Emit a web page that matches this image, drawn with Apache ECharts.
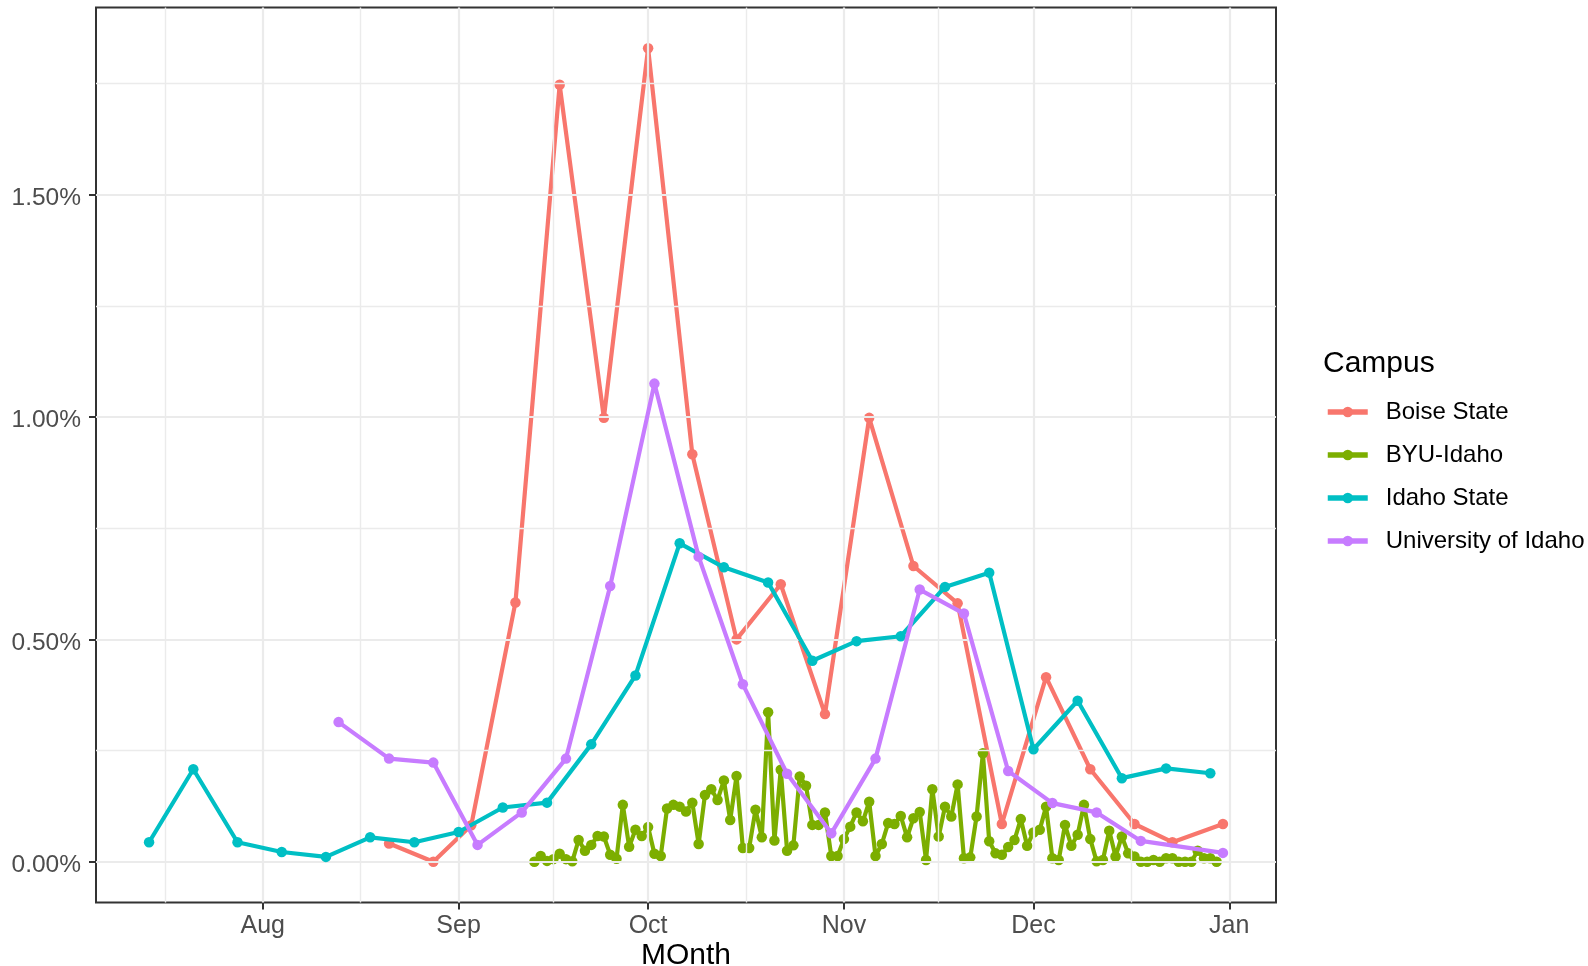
<!DOCTYPE html>
<html><head><meta charset="utf-8">
<script src="https://cdn.jsdelivr.net/npm/echarts@6/dist/echarts.min.js"></script>
<style>html,body{margin:0;padding:0;background:#fff}#c{width:1588px;height:966px}</style>
</head><body><div id="c"></div>
<script>
// ---------- data (values in percent) ----------
const campuses = ['Boise State', 'BYU-Idaho', 'Idaho State', 'University of Idaho'];
const campusColors = ['#F8766D', '#7CAE00', '#00BFC4', '#C77CFF'];

const boiseDates = ['2021-08-21','2021-08-28','2021-09-03','2021-09-10','2021-09-17','2021-09-24','2021-10-01','2021-10-08','2021-10-15','2021-10-22','2021-10-29','2021-11-05','2021-11-12','2021-11-19','2021-11-26','2021-12-03','2021-12-10','2021-12-17','2021-12-23','2021-12-31'];
const boiseValues = [0.041,0.000,0.082,0.583,1.747,0.998,1.829,0.916,0.500,0.624,0.332,0.998,0.665,0.581,0.085,0.415,0.208,0.085,0.044,0.085];

const byuStartDate = '2021-09-13'; // daily values from this date
const byuValues = [
 0.000,0.013,0.002,0.006,0.018,0.006,0.001,0.049,0.025,0.038,
 0.058,0.057,0.016,0.007,0.128,0.034,0.072,0.058,0.078,0.018,
 0.013,0.120,0.128,0.124,0.113,0.133,0.040,0.150,0.163,0.139,
 0.183,0.094,0.193,0.031,0.031,0.117,0.055,0.336,0.048,0.207,
 0.025,0.037,0.192,0.171,0.083,0.083,0.111,0.013,0.013,0.051,
 0.079,0.111,0.091,0.135,0.013,0.040,0.087,0.085,0.103,0.055,
 0.098,0.112,0.004,0.163,0.057,0.124,0.102,0.174,0.008,0.010,
 0.102,0.244,0.046,0.019,0.016,0.033,0.049,0.096,0.036,0.066,
 0.072,0.124,0.008,0.004,0.083,0.036,0.061,0.128,0.051,0.001,
 0.004,0.070,0.012,0.057,0.019,0.012,0.000,0.000,0.004,0.000,
 0.008,0.008,0.000,0.000,0.000,0.025,0.008,0.008,0.000];

const idahoStateDates = ['2021-07-14','2021-07-21','2021-07-28','2021-08-04','2021-08-11','2021-08-18','2021-08-25','2021-09-01','2021-09-08','2021-09-15','2021-09-22','2021-09-29','2021-10-06','2021-10-13','2021-10-20','2021-10-27','2021-11-03','2021-11-10','2021-11-17','2021-11-24','2021-12-01','2021-12-08','2021-12-15','2021-12-22','2021-12-29'];
const idahoStateValues = [0.044,0.208,0.044,0.022,0.011,0.055,0.044,0.067,0.122,0.133,0.264,0.419,0.716,0.662,0.628,0.452,0.496,0.507,0.618,0.650,0.253,0.362,0.188,0.210,0.199];

const uiDates = ['2021-08-13','2021-08-21','2021-08-28','2021-09-04','2021-09-11','2021-09-18','2021-09-25','2021-10-02','2021-10-09','2021-10-16','2021-10-23','2021-10-30','2021-11-06','2021-11-13','2021-11-20','2021-11-27','2021-12-04','2021-12-11','2021-12-18','2021-12-31'];
const uiValues = [0.314,0.232,0.223,0.038,0.111,0.232,0.620,1.075,0.686,0.399,0.198,0.064,0.232,0.612,0.558,0.204,0.132,0.111,0.047,0.020];

const monthBreakDates = ['2021-07-01','2021-08-01','2021-09-01','2021-10-01','2021-11-01','2021-12-01','2022-01-01'];
const monthTickLabels = ['Jul','Aug','Sep','Oct','Nov','Dec','Jan'];
const yTickValues = [0, 0.5, 1.0, 1.5];
const yMinorValues = [0.25, 0.75, 1.25, 1.75];

// ---------- helpers ----------
const DAY = 86400000;
function toTs(s) { const p = s.split('-').map(Number); return Date.UTC(p[0], p[1] - 1, p[2]); }
const breakTs = monthBreakDates.map(toTs);
const majorTs = breakTs.slice(1);
const minorTs = breakTs.slice(0, -1).map((t, i) => (t + breakTs[i + 1]) / 2);
const AUG1 = toTs('2021-08-01');
const xMin = AUG1 - 26.4 * DAY, xMax = AUG1 + 160.4 * DAY;
const yMin = -0.0915, yMax = 1.9205;
const FONT = 'Liberation Sans, Arial, sans-serif';

const byuStart = toTs(byuStartDate);
const seriesData = [
  boiseDates.map((d, i) => [toTs(d), boiseValues[i]]),
  byuValues.map((v, i) => [byuStart + i * DAY, v]),
  idahoStateDates.map((d, i) => [toTs(d), idahoStateValues[i]]),
  uiDates.map((d, i) => [toTs(d), uiValues[i]])
];

const gridColor = '#EBEBEB';
const gridLines = [].concat(
  minorTs.map(t => ({ xAxis: t, lineStyle: { color: gridColor, width: 1.4, type: 'solid' } })),
  yMinorValues.map(v => ({ yAxis: v, lineStyle: { color: gridColor, width: 1.4, type: 'solid' } })),
  majorTs.map(t => ({ xAxis: t, lineStyle: { color: gridColor, width: 2.2, type: 'solid' } })),
  yTickValues.map(v => ({ yAxis: v, lineStyle: { color: gridColor, width: 2.2, type: 'solid' } }))
);

const series = [{
  type: 'line', name: '_grid', data: [], z: 1, silent: true, animation: false,
  markLine: { silent: true, animation: false, symbol: ['none', 'none'], label: { show: false },
    emphasis: { disabled: true }, data: gridLines }
}].concat(campuses.map((name, k) => ({
  type: 'line', name: name, data: seriesData[k], z: 3 + k,
  symbol: 'circle', symbolSize: 10.5, showSymbol: true,
  lineStyle: { width: 4.2, color: campusColors[k] },
  itemStyle: { color: campusColors[k], borderWidth: 0 },
  emphasis: { disabled: true }, animation: false
})));

const chart = echarts.init(document.getElementById('c'), null, { renderer: 'canvas' });
chart.setOption({
  animation: false,
  backgroundColor: '#FFFFFF',
  textStyle: { fontFamily: FONT },
  title: { text: 'Campus', left: 1323, top: 349, padding: 0,
    textStyle: { fontSize: 30, fontWeight: 'normal', color: '#000', fontFamily: FONT } },
  legend: {
    data: campuses, orient: 'vertical', left: 1325, top: 400, padding: 0,
    itemWidth: 40, itemHeight: 13, itemGap: 19, selectedMode: false,
    lineStyle: { width: 5.5 },
    textStyle: { fontSize: 24, color: '#000', fontFamily: FONT, lineHeight: 24, padding: [0, 0, 0, 13] }
  },
  grid: { left: 96, right: 312, top: 7.5, bottom: 63.5, show: true, borderColor: '#333333', borderWidth: 2,
    backgroundColor: 'transparent', containLabel: false, outerBoundsMode: 'none' },
  xAxis: {
    type: 'value', min: xMin, max: xMax,
    axisLine: { show: false, onZero: false },
    axisTick: { show: true, customValues: majorTs, length: 7, lineStyle: { color: '#333333', width: 2 } },
    axisLabel: { customValues: majorTs, fontSize: 25, color: '#4D4D4D', margin: 11, fontFamily: FONT,
      formatter: function (v) { const i = breakTs.findIndex(t => Math.abs(t - v) < DAY / 2); return i >= 0 ? monthTickLabels[i] : ''; } },
    splitLine: { show: false }, minorSplitLine: { show: false },
    name: 'MOnth', nameLocation: 'middle', nameGap: 38, nameMoveOverlap: false,
    nameTextStyle: { fontSize: 30, color: '#000', fontFamily: FONT }
  },
  yAxis: {
    type: 'value', min: yMin, max: yMax,
    axisLine: { show: false, onZero: false },
    axisTick: { show: true, customValues: yTickValues, length: 7, lineStyle: { color: '#333333', width: 2 } },
    axisLabel: { customValues: yTickValues, fontSize: 24.5, color: '#4D4D4D', margin: 15, fontFamily: FONT,
      verticalAlign: 'top', lineHeight: 7,
      formatter: function (v) { return v.toFixed(2) + '%'; } },
    splitLine: { show: false }
  },
  series: series
});
</script>
</body></html>
